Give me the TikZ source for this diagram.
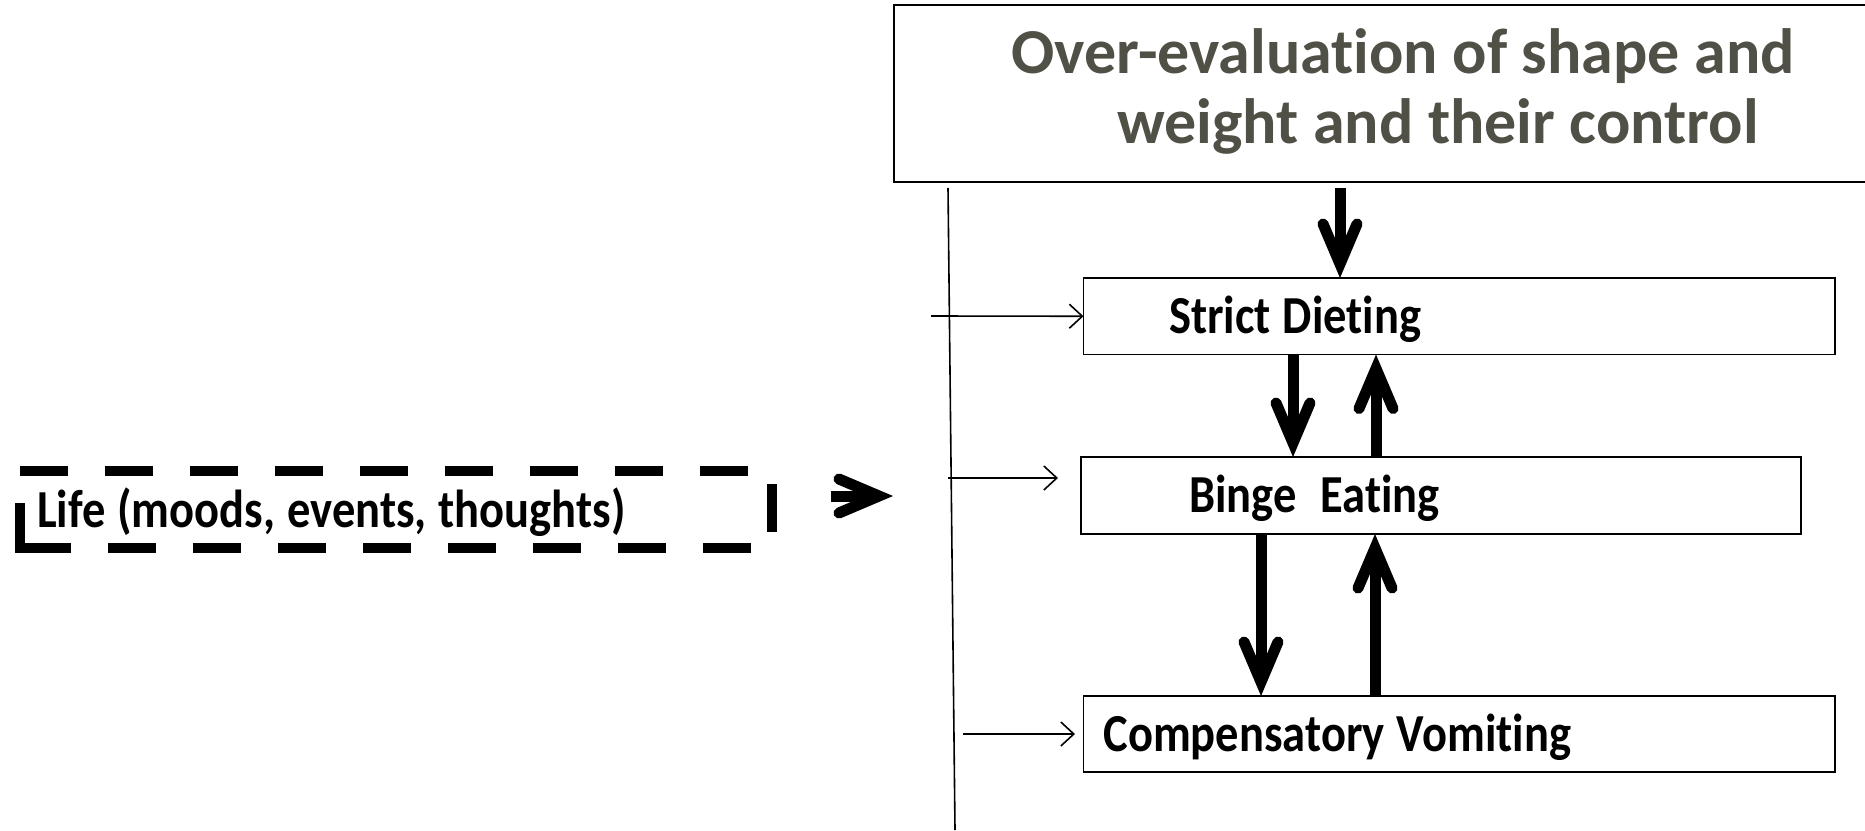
\documentclass[tikz,border=0pt]{standalone}
\usepackage{fontspec}
\setmainfont{Carlito}[Ligatures={NoCommon}]
\usetikzlibrary{arrows.meta}
\definecolor{titlegray}{RGB}{80,80,70}
\newcommand\tallt[2]{\raisebox{0pt}[#1][0pt]{\scalebox{1}[1.15]{\spaceskip=0.26em\relax #2}}}
\begin{document}
\begin{tikzpicture}[x=1pt,y=-1pt,
  box/.style={draw, line width=1.6pt, align=left, inner ysep=0pt, outer sep=0pt,
              font=\fontsize{46.5}{52}\selectfont\bfseries},
  big/.style={line width=11pt,
              -{Straight Barb[length=40pt,width=34pt,line cap=round,line join=miter]}},
  thinarrow/.style={line width=1.6pt, -{Straight Barb[length=13pt,width=24pt]}},
  dashedbox/.style={line width=10pt, dash pattern=on 48pt off 37pt},
]
\clip (0,0) rectangle (1865,830);

% top box
\node[draw, line width=2pt, minimum width=1010pt, minimum height=177pt,
      anchor=north west, inner sep=0pt, outer sep=0pt] (top) at (894,5) {};
\node[font=\fontsize{64}{70}\selectfont\bfseries, text=titlegray, align=center]
  (title) at (1403,91) {Over-evaluation of shape and\\\hspace*{70pt}weight and their control};

% three boxes
\node[box, text width=580.5pt, inner xsep=85.5pt, minimum height=76.5pt] (sd) at (1459.25,316.25) {\tallt{34pt}{Strict Dieting}};
\node[box, text width=504pt, inner xsep=108pt, minimum height=77pt] (be) at (1441,495.5) {\tallt{34pt}{Binge~~Eating}};
\node[box, text width=711.5pt, inner xsep=20pt, minimum height=76pt] (cv) at (1459.25,734) {\tallt{35pt}{Compensatory Vomiting}};

% life box
\node[text width=717.5pt, inner xsep=17pt, inner ysep=0pt, minimum height=76.5pt, align=left,
      font=\fontsize{46.5}{52}\selectfont\bfseries] (life) at (395.75,509.25) {\tallt{37pt}{Life (moods, events, thoughts)}};
\draw[dashedbox] (life.north west) -- (life.north east) -- (life.south east) -- (life.south west);
\draw[line width=10pt, line cap=rect] (life.south west) -- ([yshift=40pt]life.south west);

% vertical line
\coordinate (vt) at (948,188);
\coordinate (vb) at (955,830);
\draw[line width=1.6pt] (vt) -- (vb);

% thin arrows
\coordinate (s1) at (931,316);
\coordinate (s2) at (948,478);
\coordinate (e2) at (1058,478);
\coordinate (s3) at (963,734);
\coordinate (e3) at (1075,734);
\draw[thinarrow] (s1) -- (sd.west);
\draw[thinarrow] (s2) -- (e2);
\draw[thinarrow] (s3) -- (e3);

% thick arrows
\coordinate (x0) at (1340,188);
\coordinate (x1) at (1293,0);
\coordinate (x2) at (1376,0);
\coordinate (x3) at (1261,0);
\coordinate (x4) at (1375,0);
\draw[big] (x0) -- (x0 |- sd.north);
\draw[big] (sd.south -| x1) -- (be.north -| x1);
\draw[big] (be.north -| x2) -- (sd.south -| x2);
\draw[big] (be.south -| x3) -- (cv.north -| x3);
\draw[big] (cv.north -| x4) -- (be.south -| x4);

% life arrow
\coordinate (ls) at (831,496);
\coordinate (lt) at (893,496);
\draw[big] (ls) -- (lt);
\end{tikzpicture}
\end{document}
